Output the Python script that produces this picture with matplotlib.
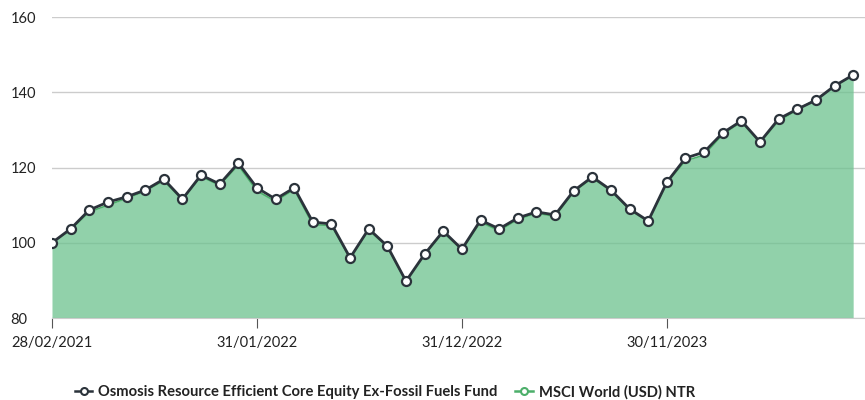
import numpy as np
import matplotlib
matplotlib.use('Agg')
import matplotlib.pyplot as plt

# month-end index values, rebased to 100
fund = [100.0, 103.7, 108.7, 110.8, 112.2, 114.0, 116.9, 111.6, 118.0, 115.6,
        121.2, 114.6, 111.6, 114.6, 105.5, 105.0, 96.0, 103.7, 99.1, 89.8,
        97.0, 103.1, 98.3, 106.0, 103.7, 106.6, 108.2, 107.4, 113.8, 117.5,
        114.0, 109.0, 105.8, 116.1, 122.5, 124.1, 129.2, 132.4, 126.8, 132.9,
        135.5, 137.9, 141.7, 144.6]
bench = [100.0, 103.4, 108.2, 110.0, 111.8, 113.7, 116.5, 111.4, 117.6, 115.3,
         120.6, 113.8, 111.0, 114.2, 104.8, 104.6, 95.8, 103.4, 98.9, 89.7,
         96.8, 102.8, 98.1, 105.5, 103.2, 106.2, 107.9, 107.0, 113.5, 117.2,
         113.8, 108.8, 105.6, 115.9, 121.8, 123.3, 128.8, 132.1, 126.6, 132.4,
         135.3, 138.1, 141.5, 144.6]
tick_labels = ['28/02/2021', '31/01/2022', '31/12/2022', '30/11/2023']
tick_pos = [0, 11, 22, 33]

fund_name = 'Osmosis Resource Efficient Core Equity Ex-Fossil Fuels Fund'
bench_name = 'MSCI World (USD) NTR'

plt.rcParams['font.family'] = ['Lato', 'DejaVu Sans']

fig = plt.figure(figsize=(8.65, 4.0), dpi=100)
ax = fig.add_axes([0.0601, 0.205, 0.94, 0.7525])

x = np.arange(len(fund))
# semi-transparent area so the gridline shows through, like the original
ax.fill_between(x, 80, bench, color='#6cc28e', alpha=0.75, zorder=2, linewidth=0)
ax.plot(x, bench, color='#4caf6a', lw=1.2, zorder=3)
ax.plot(x, fund, color='#2b333b', lw=2.0, marker='o', markersize=6.5,
        markerfacecolor='white', markeredgecolor='#2b333b', markeredgewidth=1.6,
        zorder=4)

ax.set_xlim(0, 43.64)
ax.set_ylim(80, 160)
ax.set_yticks([80, 100, 120, 140, 160])
ax.yaxis.grid(True, color='#cccccc', lw=1, zorder=1)
ax.set_axisbelow(True)
for s in ['top', 'right', 'left']:
    ax.spines[s].set_visible(False)
ax.spines['bottom'].set_color('#cccccc')
ax.tick_params(axis='y', length=0, labelsize=10.5, pad=30, colors='#222222')
for lbl in ax.get_yticklabels():
    lbl.set_horizontalalignment('left')

ax.set_xticks(tick_pos)
ax.set_xticklabels(tick_labels)
ax.tick_params(axis='x', length=7, labelsize=10.5, pad=6, colors='#222222')
ax.tick_params(axis='x', color='#555555')

h1, = ax.plot([], [], color='#2b333b', lw=1.8, marker='o', markersize=5,
              markerfacecolor='white', markeredgewidth=1.5)
h2, = ax.plot([], [], color='#4caf6a', lw=1.8, marker='o', markersize=5,
              markerfacecolor='white', markeredgecolor='#4caf6a', markeredgewidth=1.5)
leg = fig.legend([h1, h2], [fund_name, bench_name], loc='center',
                 bbox_to_anchor=(0.445, 0.02), ncol=2, frameon=False,
                 handlelength=1.2, handletextpad=0.4, columnspacing=1.2,
                 prop={'weight': 'bold', 'size': 10.6})
for t in leg.get_texts():
    t.set_color('#222222')

fig.savefig('out.png', dpi=100)
